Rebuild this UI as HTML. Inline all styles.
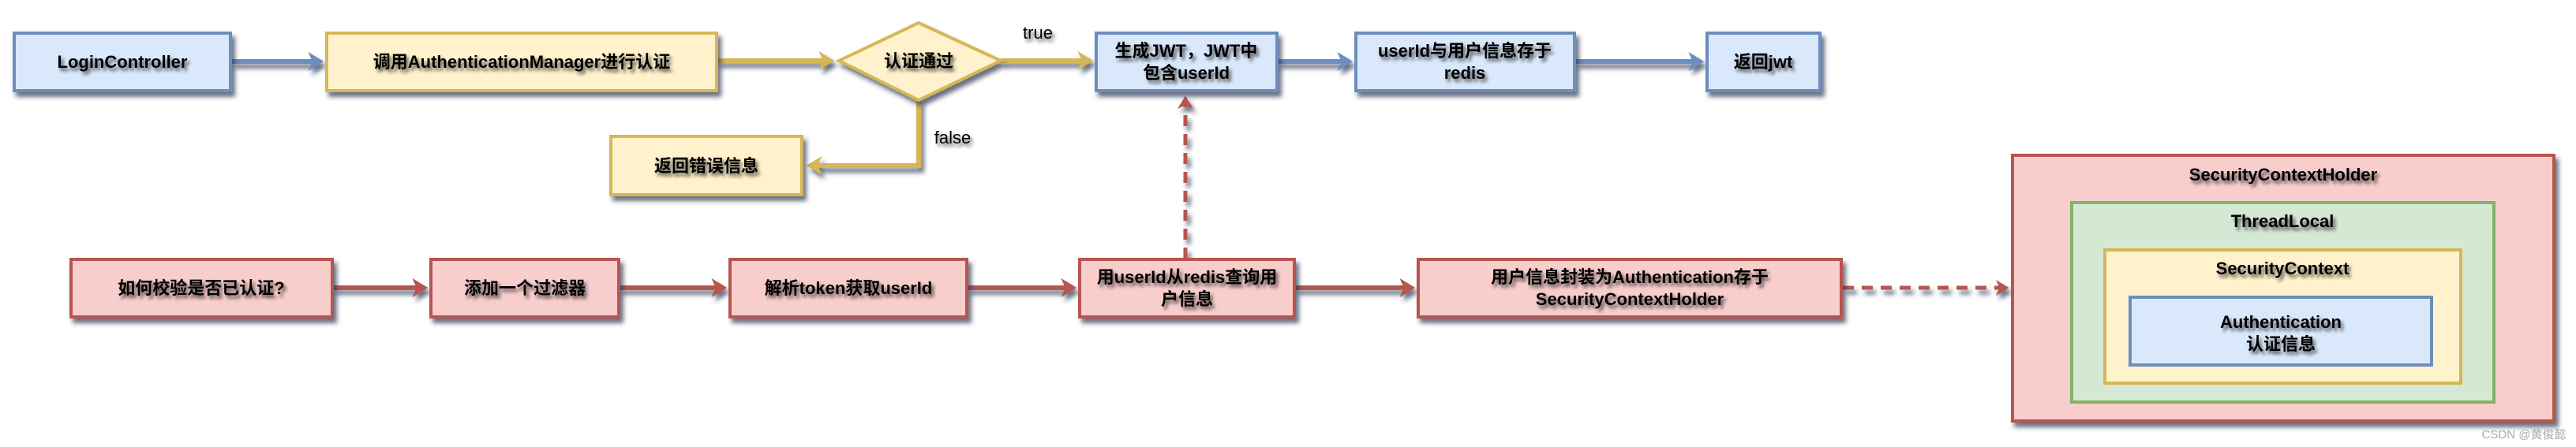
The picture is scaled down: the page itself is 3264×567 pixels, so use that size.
<!DOCTYPE html>
<html><head><meta charset="utf-8">
<style>
html,body{margin:0;padding:0;background:#fff;}
svg{display:block;}
text{font-family:"Liberation Sans","Noto Sans CJK SC",sans-serif;font-weight:bold;font-size:22px;fill:#000;text-anchor:middle;filter:url(#ts);}
</style></head>
<body>
<svg width="3264" height="567" viewBox="0 0 3264 567" xmlns="http://www.w3.org/2000/svg">
<defs>
<filter id="sh" x="-10%" y="-10%" width="130%" height="140%">
<feGaussianBlur in="SourceAlpha" stdDeviation="3"/>
<feOffset dx="4" dy="6" result="b"/>
<feFlood flood-color="#2a3550" flood-opacity="0.7"/>
<feComposite in2="b" operator="in"/>
<feMerge><feMergeNode/><feMergeNode in="SourceGraphic"/></feMerge>
</filter>
<filter id="ts" x="-10%" y="-30%" width="130%" height="180%">
<feGaussianBlur in="SourceAlpha" stdDeviation="2"/>
<feOffset dx="3" dy="4" result="b"/>
<feFlood flood-color="#000" flood-opacity="0.65"/>
<feComposite in2="b" operator="in"/>
<feMerge><feMergeNode/><feMergeNode in="SourceGraphic"/></feMerge>
</filter>
<marker id="ab" markerWidth="4" markerHeight="4" refX="2.6" refY="2" orient="auto" markerUnits="strokeWidth"><path d="M0,0 L3.3,2 L0,4 L0.9,2 Z" fill="#6c8ebf"/></marker>
<marker id="ay" markerWidth="4" markerHeight="4" refX="2.6" refY="2" orient="auto" markerUnits="strokeWidth"><path d="M0,0 L3.3,2 L0,4 L0.9,2 Z" fill="#d6b656"/></marker>
<marker id="ar" markerWidth="4" markerHeight="4" refX="2.6" refY="2" orient="auto" markerUnits="strokeWidth"><path d="M0,0 L3.3,2 L0,4 L0.9,2 Z" fill="#b85450"/></marker>
</defs>

<g fill="none" stroke-width="6" filter="url(#sh)">
<line x1="293" y1="78" x2="406" y2="78" stroke="#6c8ebf" marker-end="url(#ab)"/>
<line x1="908" y1="77" x2="1053" y2="77" stroke="#d6b656" marker-end="url(#ay)"/>
<line x1="1268" y1="77" x2="1381" y2="77" stroke="#d6b656" marker-end="url(#ay)"/>
<polyline points="1164,127 1164,210 1026,210" stroke="#d6b656" marker-end="url(#ay)"/>
<line x1="1618" y1="78" x2="1710" y2="78" stroke="#6c8ebf" marker-end="url(#ab)"/>
<line x1="1995" y1="78" x2="2155" y2="78" stroke="#6c8ebf" marker-end="url(#ab)"/>
<line x1="421" y1="365" x2="538" y2="365" stroke="#b85450" marker-end="url(#ar)"/>
<line x1="784" y1="365" x2="917" y2="365" stroke="#b85450" marker-end="url(#ar)"/>
<line x1="1225" y1="365" x2="1360" y2="365" stroke="#b85450" marker-end="url(#ar)"/>
<line x1="1640" y1="365" x2="1789" y2="365" stroke="#b85450" marker-end="url(#ar)"/>
<line x1="1502" y1="328" x2="1502" y2="125" stroke="#b85450" stroke-width="5" stroke-dasharray="14,10" marker-end="url(#ar)"/>
<line x1="2335" y1="365" x2="2542" y2="365" stroke="#b85450" stroke-width="5" stroke-dasharray="14,10" marker-end="url(#ar)"/>
</g>

<g stroke-width="4" filter="url(#sh)">
<rect x="18" y="42" width="274" height="73" fill="#dae8fc" stroke="#6c8ebf"/>
<rect x="414" y="42" width="494" height="73" fill="#fff2cc" stroke="#d6b656"/>
<rect x="774" y="173" width="242" height="74" fill="#fff2cc" stroke="#d6b656"/>
<polygon points="1164,29 1268,77 1164,127 1063,77" fill="#fff2cc" stroke="#d6b656"/>
<rect x="1389" y="42" width="229" height="73" fill="#dae8fc" stroke="#6c8ebf"/>
<rect x="1718" y="42" width="277" height="73" fill="#dae8fc" stroke="#6c8ebf"/>
<rect x="2163" y="42" width="143" height="73" fill="#dae8fc" stroke="#6c8ebf"/>
<rect x="90" y="329" width="331" height="73" fill="#f8cecc" stroke="#b85450"/>
<rect x="546" y="329" width="238" height="73" fill="#f8cecc" stroke="#b85450"/>
<rect x="925" y="329" width="300" height="73" fill="#f8cecc" stroke="#b85450"/>
<rect x="1368" y="329" width="272" height="73" fill="#f8cecc" stroke="#b85450"/>
<rect x="1797" y="329" width="536" height="73" fill="#f8cecc" stroke="#b85450"/>
<rect x="2550" y="197" width="686" height="337" fill="#f8cecc" stroke="#b85450"/>
<rect x="2625" y="257" width="535" height="253" fill="#d5e8d4" stroke="#82b366"/>
<rect x="2667" y="317" width="451" height="169" fill="#fff2cc" stroke="#d6b656"/>
<rect x="2699" y="377" width="382" height="86" fill="#dae8fc" stroke="#6c8ebf"/>
</g>

<text x="155" y="86">LoginController</text>
<text x="661" y="86">调用AuthenticationManager进行认证</text>
<text x="895" y="218">返回错误信息</text>
<text x="1164" y="85">认证通过</text>
<text x="1315" y="49" style="font-weight:normal">true</text>
<text x="1207" y="182" style="font-weight:normal">false</text>
<text x="1503" y="72">生成JWT，JWT中</text>
<text x="1503" y="100">包含userId</text>
<text x="1856" y="72">userId与用户信息存于</text>
<text x="1856" y="100">redis</text>
<text x="2234" y="86">返回jwt</text>
<text x="255" y="373">如何校验是否已认证?</text>
<text x="665" y="373">添加一个过滤器</text>
<text x="1075" y="373">解析token获取userId</text>
<text x="1504" y="359">用userId从redis查询用</text>
<text x="1504" y="387">户信息</text>
<text x="2065" y="359">用户信息封装为Authentication存于</text>
<text x="2065" y="387">SecurityContextHolder</text>
<text x="2893" y="229">SecurityContextHolder</text>
<text x="2892" y="288">ThreadLocal</text>
<text x="2892" y="348">SecurityContext</text>
<text x="2890" y="416">Authentication</text>
<text x="2890" y="444">认证信息</text>
<text x="3198" y="556" style="font-size:15px;font-weight:normal;fill:#aaa;filter:none">CSDN @黄俊懿</text>
</svg>
</body></html>
